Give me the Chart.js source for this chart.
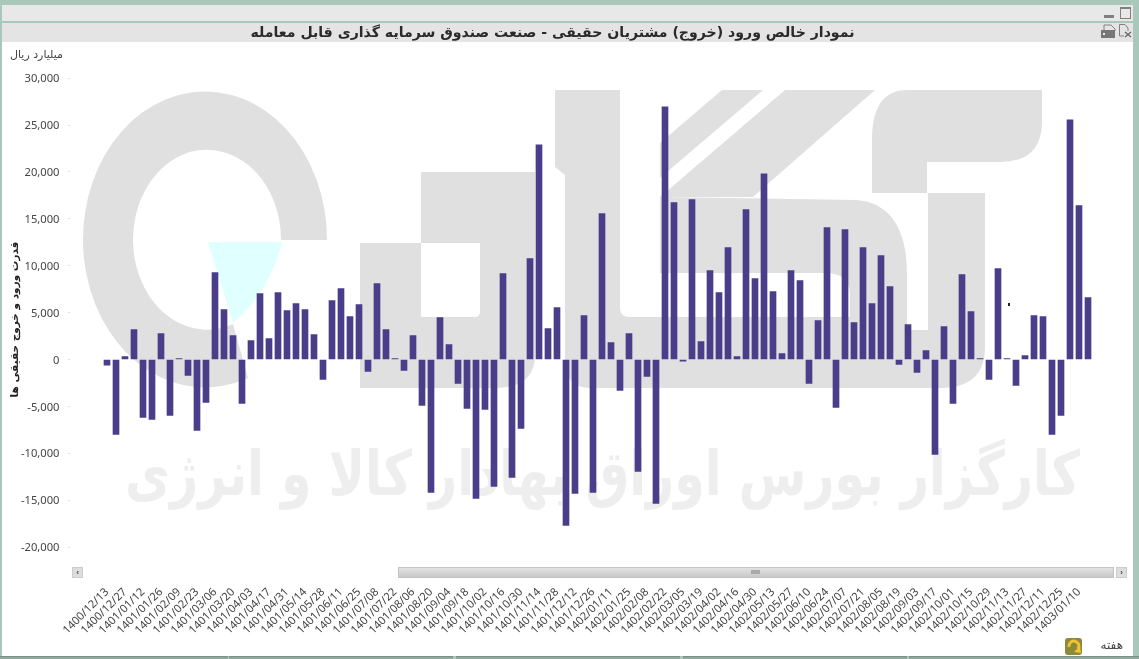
<!DOCTYPE html>
<html lang="fa">
<head>
<meta charset="utf-8">
<title>نمودار خالص ورود</title>
<script src="https://cdn.jsdelivr.net/npm/chart.js@4"></script>
<style>
    html, body { margin: 0; padding: 0; background: #a9c7bb; overflow: hidden; }
    #page { position: relative; width: 1139px; height: 659px; overflow: hidden; }
    #page > * { position: absolute; }
    #strip { left: 2px; top: 5px; width: 1131px; height: 16px; background: #e8e8e8; }
    #panel { left: 2px; top: 23px; width: 1131px; height: 633px; background: #fff; }
    #titlebar { left: 2px; top: 23px; width: 1131px; height: 19px; background: #e4e4e4; }
    #watermark { left: 0; top: 0; }
    #chart { left: 0; top: 0; }
    .note { font: 11px "DejaVu Sans", sans-serif; color: #444; direction: rtl; white-space: nowrap; }
    #unit { left: 10px; top: 48px; }
    #week { right: 16px; top: 638px; font-size: 12px; }
    .scrollbtn { top: 567px; width: 9px; height: 9px; border: 1px solid #ccc; background: #ddd; color: #444; font: bold 8px/9px sans-serif; text-align: center; }
    #track { left: 398px; top: 567px; width: 714px; height: 9px; background: linear-gradient(#e2e2e2, #c8c8c8); border: 1px solid #c4c4c4; box-sizing: content-box; }
    #speck { left: 1008px; top: 303px; width: 2px; height: 3px; background: #222; }
    .seg { top: 656px; height: 3px; background: #8fa89e; border-top: 1px solid #7e8f88; box-sizing: border-box; }
</style>
</head>
<body>
<div id="page">
    <div id="strip"></div>
    <div id="panel"></div>
    <div id="titlebar"></div>

    <svg id="watermark" width="1139" height="659">
        <g fill="#e0e0e0">
            <path d="M327 240 A122 148 0 1 0 248 378 L233 324 A74 90 0 1 1 281 240 Z"/>
            <path fill-rule="evenodd" d="M421 172 L535 172 L535 355 Q535 388 495 388 L360 388 L360 243 L421 243 Z M421 243 L480 243 L480 312 Q480 317 475 317 L421 317 Z"/>
            <path d="M555 90 L620 90 L620 308 Q620 317 630 317 L907 317 L907 330 L928 330 L928 193 L985 193 L985 347 Q985 388 940 388 L590 388 Q565 388 565 360 L565 175 L555 167 Z"/>
            <path d="M660 197 L857 200 Q907 205 907 275 L907 330 L850 330 L850 295 Q850 273 825 273 L660 273 Z"/>
            <path d="M660 143 L722 90 L763 90 L660 178 Z"/>
            <path d="M785 90 L875 90 L753 197 L660 197 Z"/>
            <path d="M907 90 L1042 90 L1042 125 Q1040 162 1000 162 L927 162 L927 193 L872 193 L872 140 Q872 90 907 90 Z"/>
        </g>
        <path fill="#e0ffff" d="M208 242 L282 242 Q270 292 233 323 Z"/>
        <text x="1080" y="495" direction="rtl" font-family="DejaVu Sans" font-weight="bold" font-size="62" fill="#eeeeee" textLength="955" lengthAdjust="spacingAndGlyphs">کارگزار بورس اوراق بهادار کالا و انرژی</text>
        <!-- window icons -->
        <rect x="1104" y="15" width="10" height="3" fill="#808080"/>
        <rect x="1120.5" y="7.5" width="10" height="11" fill="none" stroke="#808080"/>
        <rect x="1120" y="7" width="11" height="2" fill="#808080"/>
        <path d="M1104 25 H1111 L1115 29 V31 H1104 Z" fill="none" stroke="#808080"/>
        <rect x="1101" y="30" width="14" height="8" fill="#777"/>
        <rect x="1103" y="33" width="2" height="2" fill="#eee"/>
        <path d="M1119.5 24.5 H1125 L1128 28 V31 M1119.5 24.5 V36 H1124" fill="none" stroke="#808080"/>
        <path d="M1125 32 L1131 37 M1131 32 L1125 37" stroke="#666" stroke-width="1.4"/>
        <!-- refresh button -->
        <rect x="1065" y="638" width="17" height="17" rx="3" fill="#8a8a3c"/>
        <path d="M1069 647 A5 5 0 1 1 1078 649" fill="none" stroke="#f2c230" stroke-width="3"/>
        <path d="M1074 652 L1080 646 L1081 653 Z" fill="#f2c230"/>
    </svg>

    <canvas id="chart" width="1105" height="659" style="width:1105px;height:659px"></canvas>

    <div id="speck"></div>
    <div id="unit" class="note">میلیارد ریال</div>
    <div id="week" class="note">هفته</div>
    <div class="scrollbtn" style="left:72px">‹</div>
    <div id="track"></div>
    <div style="left:751px;top:570px;width:9px;height:4px;background:#aaa"></div>
    <div class="scrollbtn" style="left:1116px">›</div>
    <div class="seg" style="left:0;width:228px"></div>
    <div class="seg" style="left:229px;width:224px"></div>
    <div class="seg" style="left:456px;width:224px"></div>
    <div class="seg" style="left:683px;width:224px"></div>
    <div class="seg" style="left:909px;width:230px"></div>
</div>

<script>
const chartTitle = 'نمودار خالص ورود (خروج) مشتریان حقیقی - صنعت صندوق سرمایه گذاری قابل معامله';
const yAxisTitle = 'قدرت ورود و خروج حقیقی ها';

const weeks = [
    '1400/12/13', '1400/12/20', '1400/12/27', '1401/01/05', '1401/01/12', '1401/01/19', '1401/01/26', '1401/02/02',
    '1401/02/09', '1401/02/16', '1401/02/23', '1401/02/30', '1401/03/06', '1401/03/13', '1401/03/20', '1401/03/27',
    '1401/04/03', '1401/04/10', '1401/04/17', '1401/04/24', '1401/04/31', '1401/05/07', '1401/05/14', '1401/05/21',
    '1401/05/28', '1401/06/04', '1401/06/11', '1401/06/18', '1401/06/25', '1401/07/01', '1401/07/08', '1401/07/15',
    '1401/07/22', '1401/07/29', '1401/08/06', '1401/08/13', '1401/08/20', '1401/08/27', '1401/09/04', '1401/09/11',
    '1401/09/18', '1401/09/25', '1401/10/02', '1401/10/09', '1401/10/16', '1401/10/23', '1401/10/30', '1401/11/07',
    '1401/11/14', '1401/11/21', '1401/11/28', '1401/12/05', '1401/12/12', '1401/12/19', '1401/12/26', '1402/01/04',
    '1402/01/11', '1402/01/18', '1402/01/25', '1402/02/01', '1402/02/08', '1402/02/15', '1402/02/22', '1402/02/29',
    '1402/03/05', '1402/03/12', '1402/03/19', '1402/03/26', '1402/04/02', '1402/04/09', '1402/04/16', '1402/04/23',
    '1402/04/30', '1402/05/06', '1402/05/13', '1402/05/20', '1402/05/27', '1402/06/03', '1402/06/10', '1402/06/17',
    '1402/06/24', '1402/06/31', '1402/07/07', '1402/07/14', '1402/07/21', '1402/07/28', '1402/08/05', '1402/08/12',
    '1402/08/19', '1402/08/26', '1402/09/03', '1402/09/10', '1402/09/17', '1402/09/24', '1402/10/01', '1402/10/08',
    '1402/10/15', '1402/10/22', '1402/10/29', '1402/11/06', '1402/11/13', '1402/11/20', '1402/11/27', '1402/12/04',
    '1402/12/11', '1402/12/18', '1402/12/25', '1403/01/03', '1403/01/10', '1403/01/17'
];

const netFlow = [
    -600, -7990, 320, 3200, -6180, -6390, 2770, -5960, 100, -1700,
    -7560, -4580, 9270, 5330, 2560, -4690, 2020, 7030, 2240, 7140,
    5220, 5960, 5330, 2660, -2130, 6280, 7560, 4580, 5860, -1280,
    8090, 3200, 100, -1170, 2560, -4900, -14160, 4470, 1600, -2560,
    -5220, -14800, -5330, -13530, 9160, -12570, -7350, 10760, 22900, 3300,
    5540, -17680, -14270, 4690, -14160, 15550, 1810, -3300, 2770, -11930,
    -1810, -15340, 26950, 16720, -180, 17040, 1920, 9480, 7140, 11930,
    320, 15980, 8630, 19810, 7240, 640, 9480, 8410, -2560, 4150,
    14060, -5110, 13850, 3940, 11930, 5960, 11080, 7770, -530, 3730,
    -1380, 960, -10120, 3510, -4690, 9050, 5110, 100, -2130, 9690,
    100, -2770, 430, 4690, 4580, -7990, -5960, 25560, 16400, 6600
];

const yTicks = [30000, 25000, 20000, 15000, 10000, 5000, 0, -5000, -10000, -15000, -20000];

const barColor = '#4a3e8b';

const ctx = document.getElementById('chart');
new Chart(ctx, {
    type: 'bar',
    data: {
        labels: weeks,
        datasets: [{
            data: netFlow,
            backgroundColor: barColor,
            barThickness: 6,
        }]
    },
    options: {
        responsive: false,
        maintainAspectRatio: false,
        animation: false,
        events: [],
        layout: {
            padding: { left: 12.5, right: 12.5, top: 0, bottom: 0 }, // keeps the title centred over the plot frame
        },
        plugins: {
            legend: { display: false },
            tooltip: { enabled: false },
            title: {
                display: true,
                text: chartTitle,
                color: '#2a2a2a',
                font: { family: '"DejaVu Sans"', size: 14.1, weight: 'bold', lineHeight: 1.2 },
                padding: { top: 24.6, bottom: 19 },
            },
        },
        scales: {
            x: {
                grid: { display: false },
                border: { display: false },
                afterFit: scale => { scale.height = 80.5; },
                ticks: {
                    autoSkip: false,
                    maxRotation: 45,
                    minRotation: 45,
                    padding: -1,
                    labelOffset: 0,
                    color: '#444',
                    font: { family: '"Noto Sans"', size: 11.2 },
                    callback: function (value, index) {
                        return index % 2 === 0 ? this.getLabelForValue(value) : '';
                    },
                },
            },
            y: {
                min: -23350,
                max: 31880,
                afterBuildTicks: scale => { scale.ticks = yTicks.map(v => ({ value: v })); },
                afterFit: scale => { scale.width = 90; },
                grid: {
                    drawOnChartArea: false,
                    tickLength: 34,
                    tickColor: '#bbb',
                    tickBorderDash: [1, 60],
                },
                border: { display: false },
                title: {
                    display: true,
                    text: yAxisTitle,
                    color: '#222',
                    font: { family: '"DejaVu Sans"', size: 10.5, weight: 'bold' },
                    padding: { top: -4, bottom: 0 },
                },
                ticks: {
                    padding: 9,
                    labelOffset: 1,
                    color: '#444',
                    font: { family: '"Noto Sans"', size: 11.2 },
                    callback: value => value.toLocaleString('en-US'),
                },
            },
        },
    },
});
</script>
</body>
</html>
